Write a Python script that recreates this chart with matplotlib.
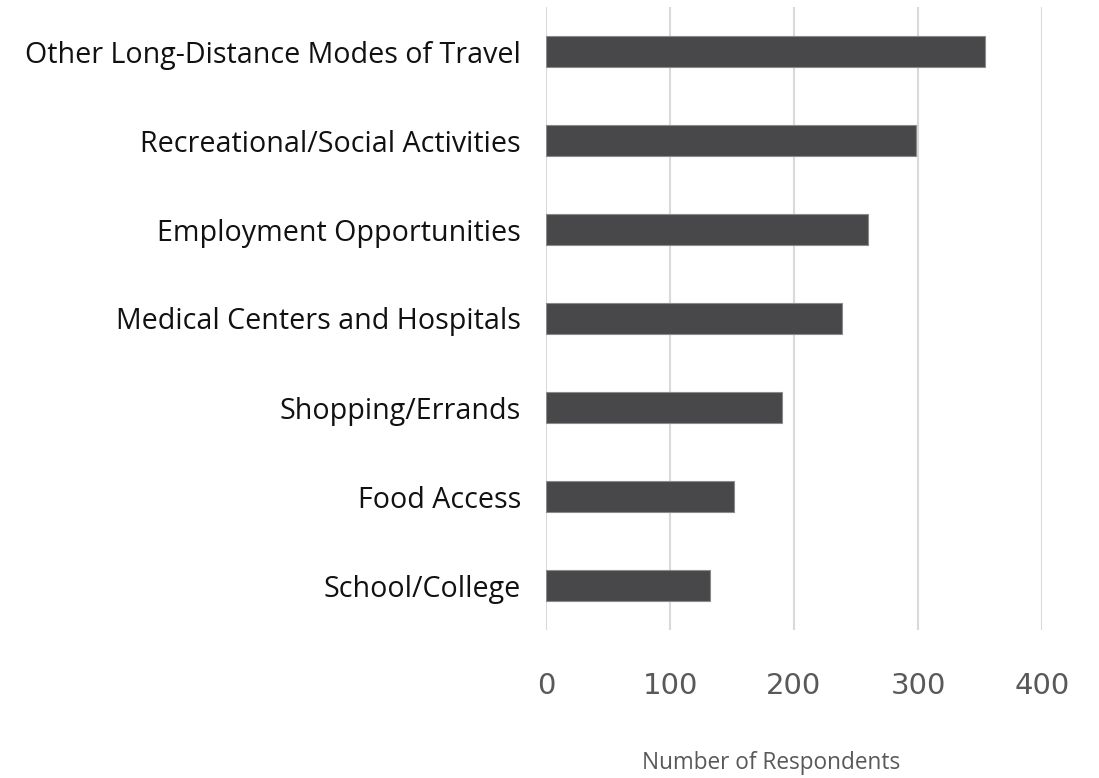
import matplotlib.pyplot as plt

categories = ["School/College", "Food Access", "Shopping/Errands",
              "Medical Centers and Hospitals", "Employment Opportunities",
              "Recreational/Social Activities", "Other Long-Distance Modes of Travel"]
respondents = [132, 152, 190, 239, 260, 298, 354]
xticks = [0, 100, 200, 300, 400]

plt.rcParams['font.family'] = ['Open Sans', 'DejaVu Sans']

fig = plt.figure(figsize=(10.99, 7.78), dpi=100)
ax = fig.add_axes([546/1099, 1 - 630/778, 496/1099, 623/778])

ax.barh(range(len(categories)), respondents, height=0.35,
        color='#48484a', edgecolor='#8a8a8a', linewidth=0.8, zorder=3)

ax.set_xlim(0, 400)
ax.set_ylim(-0.5, len(categories) - 0.5)
ax.set_xticks(xticks)
ax.set_xticklabels([str(t) for t in xticks], fontsize=21, color='#595959',
                   family='DejaVu Sans')
ax.set_yticks(range(len(categories)))
ax.set_yticklabels(categories, fontsize=20.6, color='#111111')
ax.tick_params(axis='x', length=0, pad=30)
ax.tick_params(axis='y', length=0, pad=18)
ax.grid(axis='x', color='#d9d9d9', linewidth=1.5, zorder=0)
for s in ax.spines.values():
    s.set_visible(False)

fig.text(771/1099, 1 - 763/778, "Number of Respondents", fontsize=16.3,
         color='#595959', ha='center', va='center')

fig.savefig("out.png", dpi=100)
